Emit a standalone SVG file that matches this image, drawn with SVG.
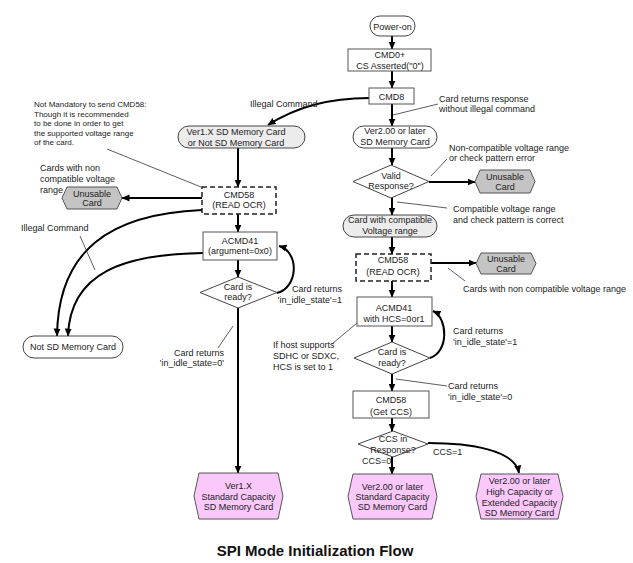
<svg xmlns="http://www.w3.org/2000/svg" width="633" height="563" viewBox="0 0 633 563">
<defs>
<marker id="ah" markerUnits="userSpaceOnUse" markerWidth="8" markerHeight="8" viewBox="0 0 8 8" refX="7.5" refY="4" orient="auto">
<path d="M0,0.5 L8,4 L0,7.5 Z" fill="#000"/>
</marker>
<style>
text{font-family:"Liberation Sans",Arial,sans-serif;font-size:9px;fill:#222}
.c{text-anchor:middle}
.e{text-anchor:end}
.n{font-size:8px}
.box{fill:#fff;stroke:#555;stroke-width:1}
.dash{fill:#fff;stroke:#222;stroke-width:1.5;stroke-dasharray:5,3}
.pill{fill:#fff;stroke:#444;stroke-width:1}
.gpill{fill:#ececec;stroke:#444;stroke-width:1}
.dia{fill:#fff;stroke:#444;stroke-width:1}
.gray{fill:#c4c4c4;stroke:#555;stroke-width:1}
.pink{fill:#fbc8fb;stroke:#555;stroke-width:1}
.arr{fill:none;stroke:#000;stroke-width:2;marker-end:url(#ah)}
.ln{fill:none;stroke:#000;stroke-width:2}
.lead{fill:none;stroke:#333;stroke-width:0.8}
</style>
</defs>
<rect width="633" height="563" fill="#fff"/>

<g id="connectors">
<!-- right column -->
<line class="arr" x1="392" y1="36" x2="392" y2="49"/>
<line class="arr" x1="392" y1="71" x2="392" y2="88"/>
<line class="arr" x1="392" y1="104" x2="392" y2="126"/>
<line class="arr" x1="392" y1="148" x2="392" y2="165"/>
<line class="arr" x1="392" y1="197" x2="392" y2="215"/>
<line class="arr" x1="392" y1="237" x2="392" y2="254"/>
<line class="arr" x1="392" y1="281" x2="392" y2="297"/>
<line class="arr" x1="392" y1="326" x2="392" y2="342"/>
<line class="arr" x1="392" y1="374" x2="392" y2="391"/>
<line class="arr" x1="392" y1="418" x2="392" y2="431"/>
<line class="arr" x1="392" y1="457" x2="392" y2="474"/>
<line class="arr" x1="429" y1="182" x2="475" y2="182"/>
<line class="arr" x1="431" y1="263" x2="476" y2="263"/>
<path class="arr" d="M430,358 C449,352 448,318 433,311"/>
<path class="arr" d="M428,443 C470,443 515,450 519,473"/>
<path class="arr" d="M369,98 C330,98 296,107 268,125"/>
<!-- left column -->
<line class="arr" x1="238" y1="148" x2="238" y2="187"/>
<line class="arr" x1="238" y1="214" x2="238" y2="232"/>
<line class="arr" x1="238" y1="260" x2="238" y2="277"/>
<line class="arr" x1="238" y1="308" x2="238" y2="473"/>
<line class="arr" x1="202" y1="198" x2="122" y2="198"/>
<path class="arr" d="M277,293 C298,288 300,252 279,246"/>
<path class="arr" d="M202,210 C110,214 58,250 57,336"/>
<path class="arr" d="M203,253 C125,254 70,272 68,336"/>
<!-- leader lines -->
<line class="lead" x1="393" y1="115" x2="438" y2="104"/>
<line class="lead" x1="431" y1="176" x2="447" y2="159"/>
<line class="lead" x1="397" y1="202" x2="447" y2="208"/>
<line class="lead" x1="448" y1="268" x2="465" y2="281"/>
<line class="lead" x1="357" y1="323" x2="332" y2="344"/>
<line class="lead" x1="396" y1="379" x2="447" y2="386"/>
<line class="lead" x1="107" y1="149" x2="201" y2="187"/>
<line class="lead" x1="80" y1="236" x2="95" y2="270"/>
<line class="lead" x1="218" y1="348" x2="233" y2="326"/>
</g>

<g id="power-on">
<rect class="pill" x="370" y="16" width="45" height="20" rx="10"/>
<text class="c" x="392.5" y="29.5">Power-on</text>
</g>
<g id="cmd0">
<rect class="box" x="348" y="49" width="83" height="22"/>
<text class="c" x="390" y="58">CMD0+</text>
<text class="c" x="390" y="69">CS Asserted("0")</text>
</g>
<g id="cmd8">
<rect class="box" x="369" y="88" width="45" height="16"/>
<text class="c" x="391.5" y="99.5">CMD8</text>
</g>
<g id="ver2">
<rect class="pill" x="353" y="126" width="84" height="22" rx="11"/>
<text class="c" x="395" y="134">Ver2.00 or later</text>
<text class="c" x="395" y="145">SD Memory Card</text>
</g>
<g id="valid">
<polygon class="dia" points="391,165 429,181.5 391,198 353,181.5"/>
<text class="c" x="391" y="179">Valid</text>
<text class="c" x="391" y="189">Response?</text>
</g>
<g id="unusable-r1">
<polygon class="gray" points="480,170 530,170 535,181.5 530,193 480,193 475,181.5"/>
<text class="c" x="505" y="180">Unusable</text>
<text class="c" x="505" y="190">Card</text>
</g>
<g id="compat">
<rect class="gpill" x="343" y="215" width="94" height="22" rx="11"/>
<text class="c" x="390" y="223">Card with compatible</text>
<text class="c" x="390" y="234">Voltage range</text>
</g>
<g id="cmd58-r">
<rect class="dash" x="356" y="254" width="75" height="27"/>
<text class="c" x="393" y="263">CMD58</text>
<text class="c" x="393" y="275">(READ OCR)</text>
</g>
<g id="unusable-r2">
<polygon class="gray" points="481,253 531,253 536,263.5 531,274 481,274 476,263.5"/>
<text class="c" x="506" y="262">Unusable</text>
<text class="c" x="506" y="272">Card</text>
</g>
<g id="acmd41-r">
<rect class="box" x="357" y="297" width="75" height="29"/>
<text class="c" x="394" y="311">ACMD41</text>
<text class="c" x="394" y="322">with HCS=0or1</text>
</g>
<g id="ready-r">
<polygon class="dia" points="392,342 430,358 392,374 354,358"/>
<text class="c" x="392" y="355">Card is</text>
<text class="c" x="392" y="366">ready?</text>
</g>
<g id="cmd58-ccs">
<rect class="box" x="353" y="391" width="76" height="27"/>
<text class="c" x="391" y="403">CMD58</text>
<text class="c" x="391" y="415">(Get CCS)</text>
</g>
<g id="ccs">
<polygon class="dia" points="393,431 428,444 393,457 358,444"/>
<text class="c" x="393" y="442">CCS in</text>
<text class="c" x="393" y="453">Response?</text>
</g>
<g id="ver2-std">
<polygon class="pink" points="353,474 432,474 437,496.5 432,519 353,519 348,496.5"/>
<text class="c" x="392.5" y="490">Ver2.00 or later</text>
<text class="c" x="392.5" y="500">Standard Capacity</text>
<text class="c" x="392.5" y="510">SD Memory Card</text>
</g>
<g id="ver2-high">
<polygon class="pink" points="481,474 558,474 563,496.5 558,519 481,519 476,496.5"/>
<text class="c" x="519.5" y="484">Ver2.00 or later</text>
<text class="c" x="519.5" y="495">High Capacity or</text>
<text class="c" x="519.5" y="506">Extended Capacity</text>
<text class="c" x="519.5" y="516">SD Memory Card</text>
</g>

<g id="ver1-pill">
<rect class="gpill" x="178" y="126" width="127" height="22" rx="11"/>
<text class="c" x="236" y="135">Ver1.X SD Memory Card</text>
<text class="c" x="236" y="146">or Not SD Memory Card</text>
</g>
<g id="cmd58-l">
<rect class="dash" x="202" y="187" width="74" height="27"/>
<text class="c" x="239" y="198">CMD58</text>
<text class="c" x="239" y="208">(READ OCR)</text>
</g>
<g id="unusable-l">
<polygon class="gray" points="67,187 117,187 122,198 117,209 67,209 62,198"/>
<text class="c" x="92" y="197">Unusable</text>
<text class="c" x="92" y="206">Card</text>
</g>
<g id="acmd41-l">
<rect class="box" x="203" y="232" width="74" height="28"/>
<text class="c" x="240" y="244">ACMD41</text>
<text class="c" x="240" y="254">(argument=0x0)</text>
</g>
<g id="ready-l">
<polygon class="dia" points="238,277 277,292.5 238,308 200,292.5"/>
<text class="c" x="238" y="290">Card is</text>
<text class="c" x="238" y="300">ready?</text>
</g>
<g id="not-sd">
<rect class="pill" x="23" y="336" width="100" height="22" rx="11"/>
<text class="c" x="73" y="350">Not SD Memory Card</text>
</g>
<g id="ver1-std">
<polygon class="pink" points="199,473 278,473 283,496 278,519 199,519 194,496"/>
<text class="c" x="238.5" y="489">Ver1.X</text>
<text class="c" x="238.5" y="500">Standard Capacity</text>
<text class="c" x="238.5" y="510">SD Memory Card</text>
</g>

<g id="labels">
<text x="250" y="107">Illegal Command</text>
<text x="439" y="102">Card returns response</text>
<text x="439" y="112">without illegal command</text>
<text x="449" y="151">Non-compatible voltage range</text>
<text x="449" y="161">or check pattern error</text>
<text x="453" y="212">Compatible voltage range</text>
<text x="453" y="223">and check pattern is correct</text>
<text x="463" y="292">Cards with non compatible voltage range</text>
<text x="453" y="334">Card returns</text>
<text x="453" y="345">'in_idle_state'=1</text>
<text x="273" y="348">If host supports</text>
<text x="273" y="359">SDHC or SDXC,</text>
<text x="273" y="370">HCS is set to 1</text>
<text x="448" y="389">Card returns</text>
<text x="448" y="400">'in_idle_state'=0</text>
<text x="362" y="464">CCS=0</text>
<text x="433" y="455">CCS=1</text>
<text class="n" x="34" y="107">Not Mandatory to send CMD58:</text>
<text class="n" x="34" y="116.6">Though it is recommended</text>
<text class="n" x="34" y="126.2">to be done in order to get</text>
<text class="n" x="34" y="135.8">the supported voltage range</text>
<text class="n" x="34" y="145.4">of the card.</text>
<text x="40" y="171">Cards with non</text>
<text x="40" y="182">compatible voltage</text>
<text x="40" y="193">range</text>
<text x="21" y="231">Illegal Command</text>
<text class="e" x="342" y="292">Card returns</text>
<text class="e" x="342" y="303">'in_idle_state'=1</text>
<text class="e" x="224" y="356">Card returns</text>
<text class="e" x="224" y="366">'in_idle_state=0'</text>
<text class="c" x="315" y="556" style="font-size:15px;font-weight:bold;fill:#111">SPI Mode Initialization Flow</text>
</g>
</svg>
